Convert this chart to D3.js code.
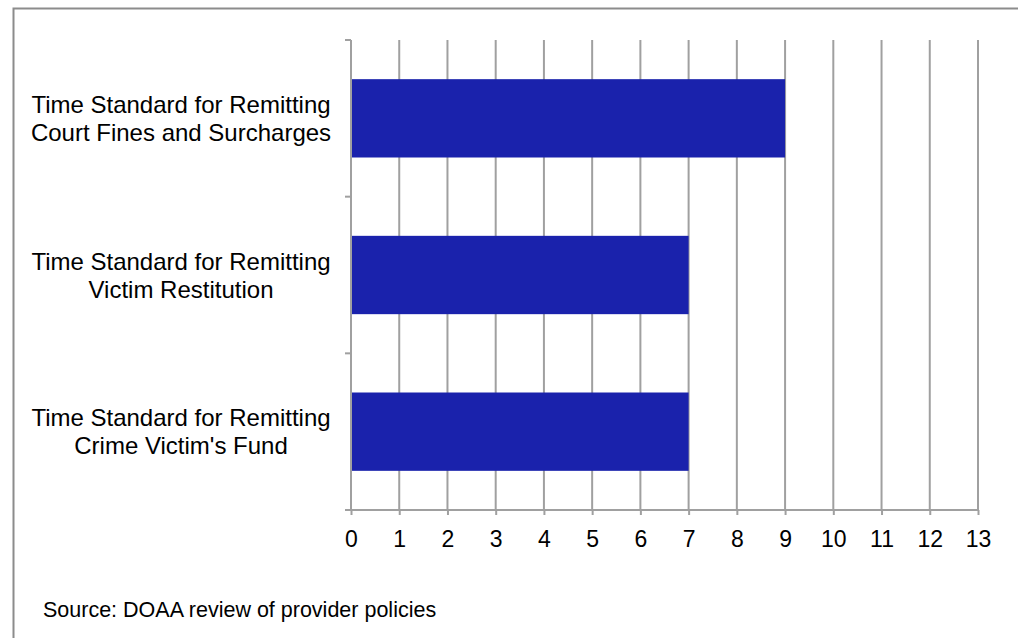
<!DOCTYPE html>
<html>
<head>
<meta charset="utf-8">
<script src="https://cdn.jsdelivr.net/npm/d3@7"></script>
<style>
  html, body { margin: 0; padding: 0; background: #fff; }
  svg { display: block; font-family: "Liberation Sans", Arial, sans-serif; }
</style>
</head>
<body>
<svg id="chart" width="1018" height="638"></svg>
<script>
// Remittance time standards (days)
const categories = [
  ["Time Standard for Remitting", "Court Fines and Surcharges"],
  ["Time Standard for Remitting", "Victim Restitution"],
  ["Time Standard for Remitting", "Crime Victim's Fund"]
];
const values = [9, 7, 7];
const xTicks = [0, 1, 2, 3, 4, 5, 6, 7, 8, 9, 10, 11, 12, 13];
const sourceNote = "Source: DOAA review of provider policies";

const svg = d3.select("#chart");
const gridColor = "#a0a0a0";
const barColor = "#1a22ac";

// outer frame (open at right and bottom edges of the canvas)
svg.append("rect")
  .attr("x", 13.5).attr("y", 8.5)
  .attr("width", 1030).attr("height", 660)
  .attr("fill", "none").attr("stroke", "#8c8c8c").attr("stroke-width", 2);

const plot = { left: 351, right: 978, top: 40, bottom: 510 };

const x = d3.scaleLinear().domain([0, 13]).range([plot.left, plot.right]);
const y = d3.scaleBand()
  .domain(categories.map((d, i) => i))
  .range([plot.top, plot.bottom])
  .paddingInner(0.5).paddingOuter(0.25);
const yEdges = d3.scaleLinear().domain([0, categories.length]).range([plot.top, plot.bottom]);

// vertical gridlines
svg.append("g").selectAll("line")
  .data(xTicks.slice(1))
  .join("line")
  .attr("x1", d => x(d)).attr("x2", d => x(d))
  .attr("y1", plot.top).attr("y2", plot.bottom)
  .attr("stroke", gridColor).attr("stroke-width", 2);

// bars
svg.append("g").selectAll("rect")
  .data(values)
  .join("rect")
  .attr("x", x(0))
  .attr("y", (d, i) => y(i))
  .attr("width", d => x(d) - x(0))
  .attr("height", y.bandwidth())
  .attr("fill", barColor);

// category axis with ticks between categories
svg.append("line")
  .attr("x1", plot.left).attr("x2", plot.left)
  .attr("y1", plot.top).attr("y2", plot.bottom)
  .attr("stroke", gridColor).attr("stroke-width", 2);
svg.append("g").selectAll("line")
  .data(d3.range(categories.length + 1))
  .join("line")
  .attr("x1", plot.left - 6).attr("x2", plot.left)
  .attr("y1", d => yEdges(d)).attr("y2", d => yEdges(d))
  .attr("stroke", gridColor).attr("stroke-width", 2);

// value axis
const xAxis = d3.axisBottom(x).tickValues(xTicks).tickSize(5).tickPadding(0);
const gx = svg.append("g")
  .attr("transform", `translate(0,${plot.bottom})`)
  .call(xAxis);
gx.select(".domain").attr("stroke", gridColor).attr("stroke-width", 2)
  .attr("d", `M${plot.left},0H${plot.right}`);
gx.selectAll(".tick line").attr("stroke", gridColor).attr("stroke-width", 2);
gx.selectAll(".tick text")
  .attr("fill", "#000")
  .attr("y", 37).attr("dy", null)
  .style("font-size", "23px")
  .style("font-family", "'Liberation Sans', Arial, sans-serif");

// category labels, two lines centred on each bar
const labels = svg.append("g").selectAll("text")
  .data(categories)
  .join("text")
  .attr("text-anchor", "middle")
  .style("font-size", "24px")
  .attr("fill", "#000");
labels.selectAll("tspan")
  .data((d, i) => d.map((line, j) => ({ line, j, mid: y(i) + y.bandwidth() / 2 })))
  .join("tspan")
  .attr("x", 181)
  .attr("y", d => d.mid + (d.j === 0 ? -5.5 : 22.5))
  .text(d => d.line);

// source note
svg.append("text")
  .attr("x", 43).attr("y", 617)
  .style("font-size", "21.5px")
  .attr("fill", "#000")
  .text(sourceNote);
</script>
</body>
</html>
